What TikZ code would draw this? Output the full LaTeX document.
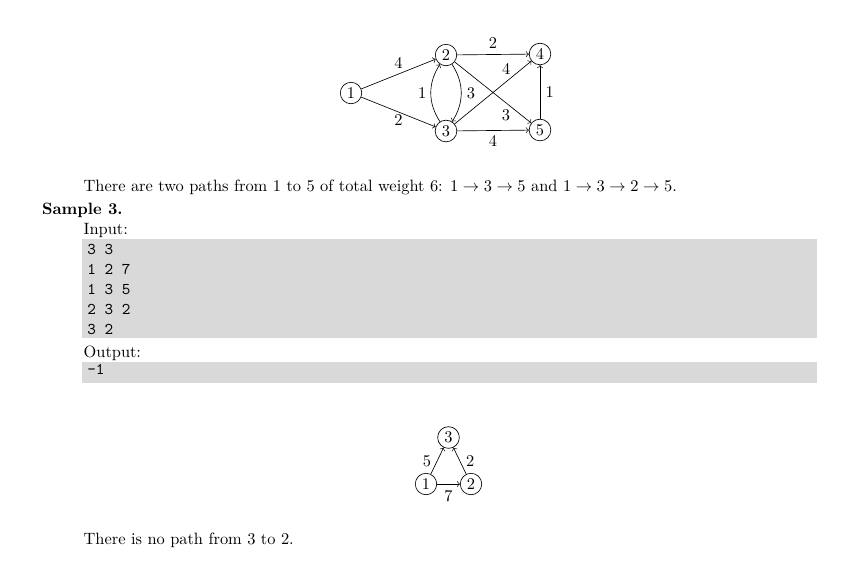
\documentclass[tikz,border=0pt]{standalone}
\usetikzlibrary{positioning}
\definecolor{boxgray}{RGB}{217,217,217}
\begin{document}
\begin{tikzpicture}[x=0.6098pt, y=-0.6098pt,
    vertex/.style={draw, circle, inner sep=1.7pt},
    wt/.style={inner sep=1pt},
    txt/.style={anchor=base west, inner sep=0pt},
    code/.style={anchor=base west, inner sep=0pt, font=\ttfamily}]
  \useasboundingbox (0,0) rectangle (852,567);
  % graph of sample 2
  \node[vertex] (a1) at (351,93) {1};
  \node[vertex] (a2) at (446,55) {2};
  \node[vertex] (a3) at (446,131) {3};
  \node[vertex] (a4) at (540,54) {4};
  \node[vertex] (a5) at (540,130) {5};
  \draw[->] (a1) -- node[wt, above=2.3pt] {4} (a2);
  \draw[->] (a1) -- node[wt, below=0.3pt] {2} (a3);
  \draw[->] (a2) -- node[wt, above=2.2pt] {2} (a4);
  \draw[->] (a3) -- node[wt, below=1.6pt] {4} (a5);
  \draw[->] (a5) -- node[wt, right=2.2pt] {1} (a4);
  \draw[->] (a3) -- node[wt, pos=0.75, above left=0pt] {4} (a4);
  \draw[->] (a2) -- node[wt, pos=0.75, below left=0pt] {3} (a5);
  \draw[->] (a3) to[bend left=33] node[wt, left=1.6pt] {1} (a2);
  \draw[->] (a2) to[bend left=33] node[wt, right=2.2pt] {3} (a3);
  % text
  \node[txt] (note2) at (83.3,191) {There are two paths from 1 to 5 of total weight 6:
    $1 \rightarrow 3 \rightarrow 5$ and $1 \rightarrow 3 \rightarrow 2 \rightarrow 5$.};
  \node[txt, font=\bfseries] (head) at (41.7,214) {Sample 3.};
  \node[txt] (inlbl) at (83.3,234) {Input:};
  \fill[boxgray] (82,239) rectangle (817,338);
  \foreach \line [count=\i] in {3 3, 1 2 7, 1 3 5, 2 3 2, 3 2}
    \node[code] (in\i) at (87,234.5+20*\i) {\line};
  \node[txt] (outlbl) at (83.3,357.5) {Output:};
  \fill[boxgray] (82,362) rectangle (817,383);
  \node[code] (out1) at (87,374.5) {-1};
  % graph of sample 3
  \node[vertex] (b3) at (448.5,437.5) {3};
  \node[vertex] (b1) at (426,484) {1};
  \node[vertex] (b2) at (471,484) {2};
  \draw[->] (b1) -- node[wt, left=2.6pt] {5} (b3);
  \draw[->] (b2) -- node[wt, right=2.6pt] {2} (b3);
  \draw[->] (b1) -- node[wt, below=2.5pt] {7} (b2);
  \node[txt] (note3) at (83.3,544) {There is no path from 3 to 2.};
\end{tikzpicture}
\end{document}
